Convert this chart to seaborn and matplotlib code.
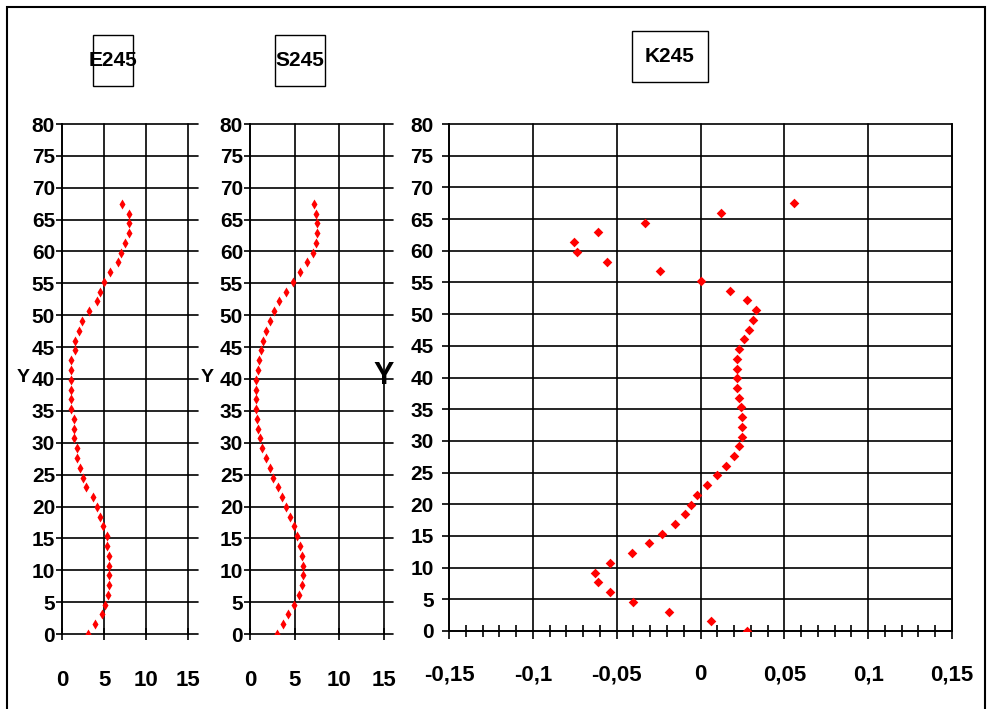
import matplotlib
matplotlib.use('Agg')
import matplotlib.pyplot as plt
import seaborn as sns
import pandas as pd
from matplotlib.patches import Rectangle
from matplotlib.ticker import MultipleLocator

sns.set_theme(style='white')
plt.rcParams['font.family'] = ['Liberation Sans', 'DejaVu Sans']
plt.rcParams['font.weight'] = 'bold'
plt.rcParams['text.color'] = 'black'
plt.rcParams['axes.labelcolor'] = 'black'
plt.rcParams['xtick.color'] = 'black'
plt.rcParams['ytick.color'] = 'black'

# ---------------- data ----------------
depth = [0, 1.53, 3.07, 4.6, 6.14, 7.67, 9.2, 10.74, 12.27, 13.81, 15.34, 16.87,
         18.41, 19.94, 21.48, 23.01, 24.54, 26.08, 27.61, 29.15, 30.68, 32.21,
         33.75, 35.28, 36.82, 38.35, 39.88, 41.42, 42.95, 44.49, 46.02, 47.55,
         49.09, 50.62, 52.16, 53.69, 55.22, 56.76, 58.29, 59.83, 61.36, 62.89,
         64.43, 65.96, 67.5]
e245 = [3.05, 3.9, 4.7, 5.15, 5.5, 5.6, 5.6, 5.6, 5.6, 5.3, 5.3, 4.9, 4.5, 4.1,
        3.7, 2.9, 2.5, 2.1, 1.75, 1.8, 1.4, 1.4, 1.4, 1.07, 1.07, 1.07, 1.07,
        1.07, 1.07, 1.55, 1.6, 2.0, 2.4, 3.25, 4.1, 4.5, 4.95, 5.75, 6.6, 7.05,
        7.45, 7.9, 7.9, 7.9, 7.1]
s245 = [3.0, 3.65, 4.3, 4.97, 5.45, 5.8, 5.94, 5.94, 5.82, 5.56, 5.22, 4.9, 4.44,
        4.0, 3.55, 3.1, 2.58, 2.2, 1.83, 1.38, 1.16, 0.93, 0.78, 0.71, 0.63,
        0.63, 0.71, 0.86, 1.04, 1.23, 1.46, 1.83, 2.2, 2.72, 3.28, 4.03, 4.8,
        5.6, 6.38, 7.05, 7.39, 7.54, 7.54, 7.36, 7.17]
k245 = [0.028, 0.006, -0.0185, -0.040, -0.054, -0.061, -0.063, -0.054, -0.041,
        -0.031, -0.023, -0.015, -0.0095, -0.0054, -0.0018, 0.0036, 0.010,
        0.0155, 0.020, 0.023, 0.0246, 0.0246, 0.0246, 0.024, 0.023, 0.022,
        0.0215, 0.0215, 0.0215, 0.023, 0.026, 0.029, 0.0315, 0.033, 0.028,
        0.0173, 0.0, -0.024, -0.0555, -0.0734, -0.0757, -0.061, -0.033, 0.012,
        0.056]
titles = ['E245', 'S245', 'K245']
y_ticks = [0, 5, 10, 15, 20, 25, 30, 35, 40, 45, 50, 55, 60, 65, 70, 75, 80]
small_x_ticks = [0, 5, 10, 15]
k_x_ticks = [-0.15, -0.1, -0.05, 0, 0.05, 0.1, 0.15]
k_x_labels = ['-0,15', '-0,1', '-0,05', '0', '0,05', '0,1', '0,15']

df = pd.DataFrame({'Y': depth, 'E245': e245, 'S245': s245, 'K245': k245})

# ---------------- figure ----------------
W, H = 991, 709
fig = plt.figure(figsize=(W / 100, H / 100), dpi=100)
fig.patch.set_facecolor('white')


def ax_at(l, t, r, b):
    return fig.add_axes([l / W, 1 - b / H, (r - l) / W, (b - t) / H])


ax1 = ax_at(62, 124, 198, 634)
ax2 = ax_at(250, 124, 393, 634)
ax3 = ax_at(449, 124, 952, 631)

LW = 1.2

for ax, col, xmax in [(ax1, 'E245', 16.15), (ax2, 'S245', 16.0)]:
    sns.scatterplot(data=df, x=col, y='Y', ax=ax, marker='d', s=26,
                    color='red', linewidth=0, zorder=3)
    ax.set_xlim(0, xmax)
    ax.set_ylim(0, 80)
    ax.set_xticks(small_x_ticks)
    ax.set_yticks(y_ticks)
    ax.grid(True, color='black', linewidth=LW, clip_on=False)
    for s in ['top', 'right', 'bottom']:
        ax.spines[s].set_visible(False)
    ax.spines['left'].set_color('black')
    ax.spines['left'].set_linewidth(LW)
    ax.tick_params(axis='y', left=True, direction='out', length=4, width=LW,
                   color='black', labelcolor='black', pad=1, labelsize=15)
    ax.tick_params(axis='x', bottom=True, direction='inout', length=8, width=LW,
                   color='black', labelcolor='black', pad=22, labelsize=16)
    ax.set_xlabel('')
    ax.set_ylabel('')

sns.scatterplot(data=df, x='K245', y='Y', ax=ax3, marker='D', s=24,
                color='red', linewidth=0, zorder=3)
ax3.set_xlim(-0.15, 0.15)
ax3.set_ylim(0, 80)
ax3.set_xticks(k_x_ticks)
ax3.set_xticklabels(k_x_labels)
ax3.set_yticks(y_ticks)
ax3.xaxis.set_minor_locator(MultipleLocator(0.01))
ax3.grid(True, which='major', color='black', linewidth=LW, clip_on=False)
ax3.spines['top'].set_visible(False)
for s in ['left', 'bottom', 'right']:
    ax3.spines[s].set_color('black')
    ax3.spines[s].set_linewidth(LW)
ax3.tick_params(axis='y', left=True, direction='out', length=5, width=LW,
                color='black', labelcolor='black', pad=6, labelsize=15)
ax3.tick_params(axis='x', which='major', bottom=True, direction='out', length=6,
                width=LW, color='black', labelcolor='black', pad=18, labelsize=16)
ax3.tick_params(axis='x', which='minor', bottom=True, direction='inout', length=9,
                width=LW, color='black')
ax3.set_xlabel('')
ax3.set_ylabel('')

for ax in (ax1, ax2, ax3):
    ax.set_facecolor('white')
    for lab in ax.get_xticklabels() + ax.get_yticklabels():
        lab.set_fontweight('bold')
        lab.set_color('black')


# ---------------- titles in boxes ----------------
def box_title(text, l, t, r, b, size):
    fig.add_artist(Rectangle((l / W, 1 - b / H), (r - l) / W, (b - t) / H,
                             transform=fig.transFigure, fill=False,
                             edgecolor='black', linewidth=1.0))
    fig.text((l + r) / 2 / W, 1 - (t + b) / 2 / H, text, ha='center',
             va='center', fontsize=size, fontweight='bold', color='black')


box_title(titles[0], 93, 35, 133, 86, 15)
box_title(titles[1], 275, 35, 325, 86, 15)
box_title(titles[2], 632, 31, 708, 82, 15)

# ---------------- Y labels ----------------
fig.text(23 / W, 1 - 378 / H, 'Y', ha='center', va='center', fontsize=14,
         fontweight='bold', color='black')
fig.text(207 / W, 1 - 378 / H, 'Y', ha='center', va='center', fontsize=14,
         fontweight='bold', color='black')
fig.text(384 / W, 1 - 376 / H, 'Y', ha='center', va='center', fontsize=22,
         fontweight='bold', color='black')

# ---------------- outer frame ----------------
fig.add_artist(Rectangle((7 / W, -0.05), (985 - 7) / W, 1 - 7 / H + 0.05,
                         transform=fig.transFigure, fill=False,
                         edgecolor='black', linewidth=1.5, clip_on=False))

fig.savefig('out.png', dpi=100)
